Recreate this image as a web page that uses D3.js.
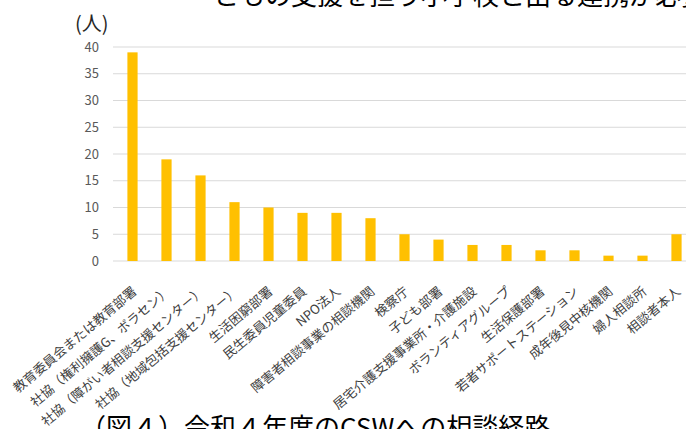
<!DOCTYPE html>
<html>
<head>
<meta charset="utf-8">
<script src="https://cdn.jsdelivr.net/npm/d3@7"></script>
<style>
  body { margin: 0; background: #fff; overflow: hidden; }
  svg { display: block; font-family: "Noto Sans CJK JP", "Noto Sans", sans-serif; }
</style>
</head>
<body>
<div id="chart"></div>
<script>
// ---------- data ----------
const categories = [
    '教育委員会または教育部署',
    '社協（権利擁護G、ボラセン）',
    '社協（障がい者相談支援センター）',
    '社協（地域包括支援センター）',
    '生活困窮部署',
    '民生委員児童委員',
    'NPO法人',
    '障害者相談事業の相談機関',
    '検察庁',
    '子ども部署',
    '居宅介護支援事業所・介護施設',
    'ボランティアグループ',
    '生活保護部署',
    '若者サポートステーション',
    '成年後見中核機関',
    '婦人相談所',
    '相談者本人'
];
const counts = [39, 19, 16, 11, 10, 9, 9, 8, 5, 4, 3, 3, 2, 2, 1, 1, 5];
const yTicks = [0, 5, 10, 15, 20, 25, 30, 35, 40];
const unitLabel = '(人)';
const caption = '（図４）令和４年度のCSWへの相談経路';
const topText = 'ともの支援を担う小学校と出る連携が必要である';

const width = 686, height = 429;

const svg = d3.select('#chart').append('svg')
    .attr('width', width)
    .attr('height', height);

const x = d3.scaleBand()
    .domain(categories)
    .range([115.5, 693.5])
    .paddingInner(0.7)
    .paddingOuter(0.35);

const y = d3.scaleLinear()
    .domain([0, 40])
    .range([261, 47]);

// gridlines
svg.append('g')
    .selectAll('line')
    .data(yTicks)
    .enter().append('line')
    .attr('x1', 113)
    .attr('x2', width)
    .attr('y1', d => y(d))
    .attr('y2', d => y(d))
    .attr('stroke', '#d9d9d9')
    .attr('stroke-width', 1);

// y tick labels
svg.append('g')
    .selectAll('text')
    .data(yTicks)
    .enter().append('text')
    .attr('x', 99)
    .attr('y', d => y(d))
    .attr('dy', '0.35em')
    .attr('text-anchor', 'end')
    .attr('font-size', 13)
    .attr('fill', '#595959')
    .text(d => d);

// bars
svg.append('g')
    .selectAll('rect')
    .data(counts)
    .enter().append('rect')
    .attr('x', (d, i) => x(categories[i]))
    .attr('y', d => y(d))
    .attr('width', x.bandwidth())
    .attr('height', d => y(0) - y(d))
    .attr('fill', '#FFC000');

// category labels (rotated)
svg.append('g')
    .selectAll('text')
    .data(categories)
    .enter().append('text')
    .attr('transform', d => `translate(${x(d) + x.bandwidth() / 2 + 5},${293}) rotate(-40)`)
    .attr('text-anchor', 'end')
    .attr('font-size', 13)
    .attr('fill', '#404040')
    .text(d => d);

// unit label
svg.append('text')
    .attr('x', 75)
    .attr('y', 31)
    .attr('font-size', 20)
    .attr('fill', '#262626')
    .text(unitLabel);

// cut-off heading at the top
svg.append('text')
    .attr('x', 213)
    .attr('y', 5)
    .attr('font-size', 26)
    .attr('fill', '#000')
    .text(topText);

// figure caption at the bottom
svg.append('text')
    .attr('x', 80)
    .attr('y', 437)
    .attr('font-size', 26)
    .attr('fill', '#000')
    .text(caption);
</script>
</body>
</html>
